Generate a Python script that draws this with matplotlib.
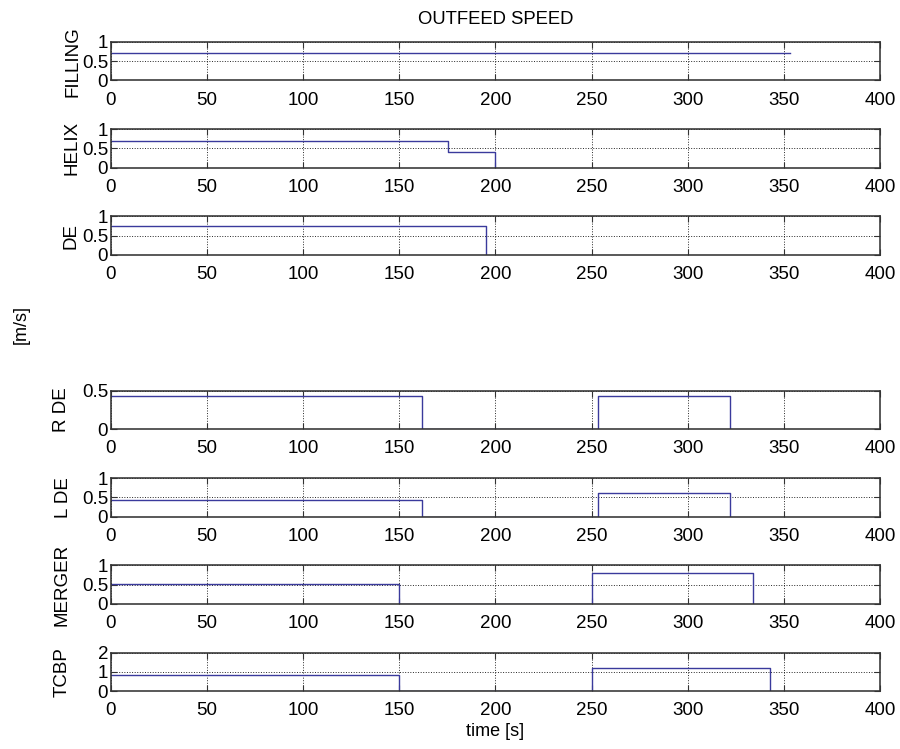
"""Outfeed speed step traces, MATLAB-style stacked subplots."""
import matplotlib
matplotlib.use('Agg')
import matplotlib.pyplot as plt

plt.rcParams['font.family'] = ['Liberation Sans', 'DejaVu Sans']

LINE = '#3a3a9c'
EDGE = '#333333'

# series: name, breakpoints [s], levels [m/s] (steps-post), y ticks
names = ['FILLING', 'HELIX', 'DE', None, 'R DE', 'L DE', 'MERGER', 'TCBP']

filling_t = [0, 353]
filling_v = [0.7, 0.7]
helix_t = [0, 175.5, 200]
helix_v = [0.7, 0.4, 0]
de_t = [0, 195]
de_v = [0.75, 0]
rde_t = [0, 162, 253.5, 322]
rde_v = [0.43, 0, 0.43, 0]
lde_t = [0, 162, 253.5, 322]
lde_v = [0.44, 0, 0.6, 0]
merger_t = [0, 150, 250, 334]
merger_v = [0.52, 0, 0.79, 0]
tcbp_t = [0, 150, 250, 343]
tcbp_v = [0.83, 0, 1.17, 0]

series = [(filling_t, filling_v), (helix_t, helix_v), (de_t, de_v), None,
          (rde_t, rde_v), (lde_t, lde_v), (merger_t, merger_v), (tcbp_t, tcbp_v)]

yticks = [[0, 0.5, 1], [0, 0.5, 1], [0, 0.5, 1], None,
          [0, 0.5], [0, 0.5, 1], [0, 0.5, 1], [0, 1, 2]]
ytick_labels = [['0', '0.5', '1'], ['0', '0.5', '1'], ['0', '0.5', '1'], None,
                ['0', '0.5'], ['0', '0.5', '1'], ['0', '0.5', '1'], ['0', '1', '2']]
xticks = [0, 50, 100, 150, 200, 250, 300, 350, 400]

# horizontal position of each y label (axes fraction, right edge of rotated text)
label_x = [-0.038, -0.040, -0.041, None, -0.053, -0.051, -0.053, -0.053]

fig, axes = plt.subplots(8, 1, figsize=(9, 7.49), dpi=100)
fig.subplots_adjust(left=0.1233, right=0.9778, top=0.944, bottom=0.0774, hspace=1.265)

for i, ax in enumerate(axes):
    if series[i] is None:
        ax.set_visible(False)
        continue
    t, v = series[i]
    ax.plot(t, v, color=LINE, lw=1.0, zorder=2,
            drawstyle='steps-post' if i != 0 else 'default')
    ax.set_xlim(0, 400)
    ax.set_ylim(yticks[i][0], yticks[i][-1])
    ax.set_xticks(xticks)
    ax.set_xticklabels([str(x) for x in xticks])
    ax.set_yticks(yticks[i])
    ax.set_yticklabels(ytick_labels[i])
    ax.grid(True, color='k', linestyle=':', lw=0.7, alpha=0.85)
    ax.tick_params(direction='in', length=4, width=0.8, top=True, right=True,
                   labelsize=13.5, colors=EDGE, labelcolor='black')
    ax.tick_params(axis='x', pad=8)
    ax.tick_params(axis='y', pad=2)
    for s in ax.spines.values():
        s.set_color(EDGE)
        s.set_linewidth(1.15)
        s.set_zorder(5)
    ax.set_ylabel(names[i], fontsize=13.5)
    ax.yaxis.set_label_coords(label_x[i], 0.5)

axes[0].set_title('OUTFEED SPEED', fontsize=13.3, pad=13)
axes[-1].set_xlabel('time [s]', fontsize=13, labelpad=3)
fig.text(0.024, 1 - 325 / 749, '[m/s]', rotation=90, ha='center', va='center', fontsize=13)

fig.savefig('out.png', dpi=100, facecolor='white')
